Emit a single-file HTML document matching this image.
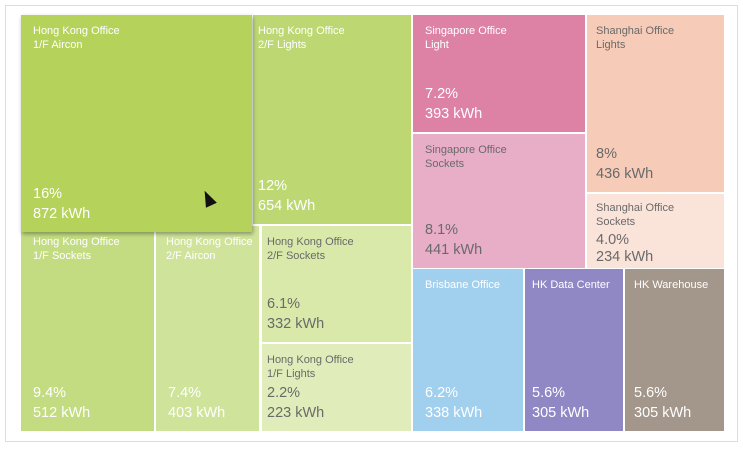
<!DOCTYPE html><html><head><style>
body{margin:0;width:743px;height:450px;background:#fff;position:relative;overflow:hidden;font-family:"Liberation Sans",sans-serif}
.frame{position:absolute;left:5px;top:5px;width:733px;height:437px;border:1px solid #ddd;box-sizing:border-box}
.t{position:absolute;box-sizing:border-box;color:#fff;overflow:hidden}
.l{position:absolute;left:12px;top:9px;font-size:11px;line-height:14px;white-space:nowrap}
.v{position:absolute;left:12px;bottom:8px;font-size:14.5px;line-height:20px}
.d{color:#6a6a6a}
</style></head><body>
<div class="frame"></div>
<div class="t" style="left:253px;top:15px;width:158px;height:209px;background:#bdd873"><div class="l" style="left:5px">Hong Kong Office<br>2/F Lights</div><div class="v" style="left:5px">12%<br>654 kWh</div></div>
<div class="t" style="left:21px;top:226px;width:133px;height:205px;background:#c3dc82"><div class="l">Hong Kong Office<br>1/F Sockets</div><div class="v">9.4%<br>512 kWh</div></div>
<div class="t" style="left:156px;top:226px;width:103px;height:205px;background:#cfe39a"><div class="l" style="left:10px">Hong Kong Office<br>2/F Aircon</div><div class="v">7.4%<br>403 kWh</div></div>
<div class="t d" style="left:262px;top:226px;width:149px;height:116px;background:#d8e9aa"><div class="l" style="left:5px">Hong Kong Office<br>2/F Sockets</div><div class="v" style="left:5px">6.1%<br>332 kWh</div></div>
<div class="t d" style="left:262px;top:344px;width:149px;height:87px;background:#e0edbb"><div class="l" style="left:5px">Hong Kong Office<br>1/F Lights</div><div class="v" style="left:5px">2.2%<br>223 kWh</div></div>
<div class="t" style="left:21px;top:15px;width:231px;height:217px;background:#b5d25a;box-shadow:1px 2px 4px rgba(0,0,0,.35)"><div class="l">Hong Kong Office<br>1/F Aircon</div><div class="v">16%<br>872 kWh</div><div style="position:absolute;left:181px;top:175px;width:0;height:0;border-left:6px solid transparent;border-right:6px solid transparent;border-bottom:16px solid #111;transform:rotate(-25deg)"></div></div>
<div class="t" style="left:413px;top:15px;width:172px;height:117px;background:#de82a5"><div class="l">Singapore Office<br>Light</div><div class="v">7.2%<br>393 kWh</div></div>
<div class="t d" style="left:413px;top:134px;width:172px;height:134px;background:#e8adc7"><div class="l">Singapore Office<br>Sockets</div><div class="v">8.1%<br>441 kWh</div></div>
<div class="t d" style="left:587px;top:15px;width:137px;height:177px;background:#f6cbb8"><div class="l" style="left:9px">Shanghai Office<br>Lights</div><div class="v" style="left:9px">8%<br>436 kWh</div></div>
<div class="t d" style="left:587px;top:194px;width:137px;height:74px;background:#fae3d9"><div class="l" style="left:9px;top:7px">Shanghai Office<br>Sockets</div><div class="v" style="left:9px;bottom:2px;line-height:17px">4.0%<br>234 kWh</div></div>
<div class="t" style="left:413px;top:269px;width:110px;height:162px;background:#a1cfee"><div class="l">Brisbane Office</div><div class="v">6.2%<br>338 kWh</div></div>
<div class="t" style="left:525px;top:269px;width:98px;height:162px;background:#9087c5"><div class="l" style="left:7px">HK Data Center</div><div class="v" style="left:7px">5.6%<br>305 kWh</div></div>
<div class="t" style="left:625px;top:269px;width:99px;height:162px;background:#a3968a"><div class="l" style="left:9px">HK Warehouse</div><div class="v" style="left:9px">5.6%<br>305 kWh</div></div>
</body></html>
